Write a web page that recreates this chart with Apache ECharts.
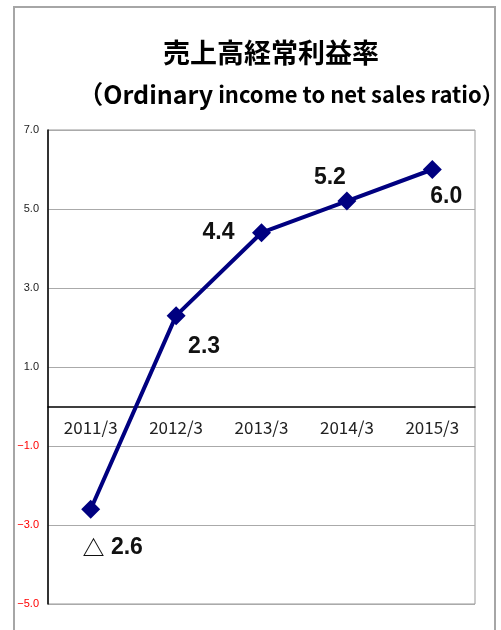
<!DOCTYPE html>
<html>
<head>
<meta charset="utf-8">
<script src="https://cdn.jsdelivr.net/npm/echarts@6/dist/echarts.min.js"></script>
<style>
  html, body { margin: 0; padding: 0; background: #fff; }
  #chart { width: 501px; height: 630px; }
</style>
</head>
<body>
<div id="chart"></div>
<script>
// 年度
const years = ["2011/3", "2012/3", "2013/3", "2014/3", "2015/3"];
// 売上高経常利益率 (%)
const ratios = [-2.6, 2.3, 4.4, 5.2, 6.0];
// y軸目盛
const yMin = -5;
const yMax = 7;
const yStep = 2;

// ラベル位置のずれ (点からのオフセット)
const labelOffsets = [[22, 38], [28, 31], [-43, 0], [-17, -23], [14, 27]];

const gridTop = 130;
const gridBottom = 26;
const plotH = 630 - gridTop - gridBottom;
// x軸を0の位置へ (ラベルごと移動)
const zeroOffset = -plotH * (0 - yMin) / (yMax - yMin);

const chart = echarts.init(document.getElementById("chart"));

const option = {
  animation: false,
  backgroundColor: "#fff",
  graphic: [
    {
      type: "rect",
      shape: { x: 14, y: 7, width: 481, height: 640 },
      style: { fill: "none", stroke: "#a6a6a6", lineWidth: 2 },
      silent: true
    }
  ],
  title: [
    {
      text: "売上高経常利益率",
      left: 266,
      top: 34,
      textAlign: "center",
      textStyle: {
        fontFamily: "Noto Sans CJK JP",
        fontSize: 27,
        fontWeight: "bold",
        color: "#000"
      }
    },
    {
      text: "{a|（Ordinary} {b|income to net sales ratio）}",
      left: 286,
      top: 77,
      textAlign: "center",
      textStyle: {
        rich: {
          a: { fontFamily: "Noto Sans CJK JP", fontSize: 25, fontWeight: "bold", color: "#000" },
          b: { fontFamily: "Noto Sans CJK JP", fontSize: 22, fontWeight: "bold", color: "#000" }
        }
      }
    }
  ],
  grid: {
    left: 48,
    right: 26,
    top: gridTop,
    bottom: gridBottom,
    show: true,
    borderColor: "#999",
    borderWidth: 1
  },
  xAxis: {
    type: "category",
    data: years,
    boundaryGap: true,
    position: "bottom",
    offset: zeroOffset,
    axisLine: { onZero: false, lineStyle: { color: "#000", width: 1.5 } },
    axisTick: { inside: true, length: 5, lineStyle: { color: "#999" } },
    axisLabel: {
      margin: 13,
      fontFamily: "Noto Sans CJK JP",
      fontSize: 17,
      color: "#222"
    }
  },
  yAxis: {
    type: "value",
    min: yMin,
    max: yMax,
    interval: yStep,
    axisLine: { show: true, onZero: false, lineStyle: { color: "#000", width: 1.5 } },
    axisTick: { show: false },
    axisLabel: {
      margin: 9,
      fontFamily: "Liberation Sans",
      fontSize: 11,
      formatter: function (v) {
        return v < 0 ? "\u2212" + Math.abs(v).toFixed(1) : v.toFixed(1);
      },
      color: function (v) { return Number(v) < 0 ? "#ff0000" : "#222"; }
    },
    splitLine: { lineStyle: { color: "#aaa", width: 1 } }
  },
  series: [
    {
      type: "line",
      data: ratios.map(function (v, i) {
        return {
          value: v,
          label: { position: "inside", offset: labelOffsets[i] }
        };
      }),
      symbol: "diamond",
      symbolSize: 19,
      lineStyle: { color: "#000080", width: 4 },
      itemStyle: { color: "#000080" },
      label: {
        show: true,
        formatter: function (p) {
          // 負の値は「△」表記
          return p.value < 0
            ? "{t|△} " + Math.abs(p.value).toFixed(1)
            : p.value.toFixed(1);
        },
        fontFamily: "Liberation Sans Narrow, Liberation Sans",
        fontSize: 23,
        fontWeight: "bold",
        color: "#111",
        rich: {
          t: { fontFamily: "Noto Sans CJK JP", fontSize: 22, fontWeight: "bold", color: "#111" }
        }
      },
      z: 5
    }
  ]
};

chart.setOption(option);
</script>
</body>
</html>
